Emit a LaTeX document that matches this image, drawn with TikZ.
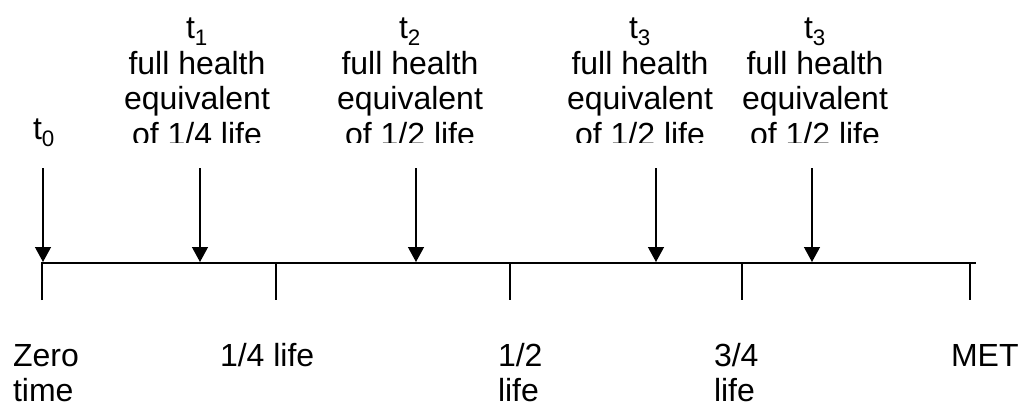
\documentclass[tikz,border=0pt]{standalone}
\usepackage{fontspec}
\setmainfont{Liberation Sans}
\usetikzlibrary{arrows.meta}
\begin{document}
\begin{tikzpicture}[x=1pt,y=-1pt,
  every node/.style={inner sep=0pt,outer sep=0pt,font=\fontsize{32}{35.5}\selectfont},
  toplabel/.style={align=center,anchor=base},
  botlabel/.style={align=left,anchor=base west,font=\fontsize{32}{34.5}\selectfont},
  axisline/.style={line width=1.3pt},
  evarrow/.style={line width=1.3pt,-{Triangle[width=16pt,length=15pt]}}]
\useasboundingbox (0,0) rectangle (1018,407);
% axis points
\coordinate (p0) at (42,263);
\coordinate (p1) at (276,263);
\coordinate (p2) at (510,263);
\coordinate (p3) at (742,263);
\coordinate (p4) at (970,263);
\coordinate (pend) at (976,263);
\coordinate (q0) at (42,300);
\coordinate (q1) at (276,300);
\coordinate (q2) at (510,300);
\coordinate (q3) at (742,300);
\coordinate (q4) at (970,300);
% arrow points
\coordinate (a0s) at (43,168);  \coordinate (a0e) at (43,262);
\coordinate (a1s) at (200,168); \coordinate (a1e) at (200,262);
\coordinate (a2s) at (416,168); \coordinate (a2e) at (416,262);
\coordinate (a3s) at (656,168); \coordinate (a3e) at (656,262);
\coordinate (a4s) at (812,168); \coordinate (a4e) at (812,262);
% top labels (clipped at bottom, as in the source)
\node[toplabel] (t0) at (44,139) {t\textsubscript{0}};
\begin{scope}
\clip (0,0) rectangle (1018,142);
\node[toplabel] (t1) at (197,145) {t\textsubscript{1}\\full health\\equivalent\\of 1/4 life};
\node[toplabel] (t2) at (410,145) {t\textsubscript{2}\\full health\\equivalent\\of 1/2 life};
\node[toplabel] (t3) at (640,145) {t\textsubscript{3}\\full health\\equivalent\\of 1/2 life};
\node[toplabel] (t4) at (815,145) {t\textsubscript{3}\\full health\\equivalent\\of 1/2 life};
\end{scope}
% axis
\draw[axisline] (q0) -- (p0) -- (pend);
\draw[axisline] (p1) -- (q1);
\draw[axisline] (p2) -- (q2);
\draw[axisline] (p3) -- (q3);
\draw[axisline] (p4) -- (q4);
% arrows
\draw[evarrow] (a0s) -- (a0e);
\draw[evarrow] (a1s) -- (a1e);
\draw[evarrow] (a2s) -- (a2e);
\draw[evarrow] (a3s) -- (a3e);
\draw[evarrow] (a4s) -- (a4e);
% bottom labels (base anchor is the last line)
\node[botlabel] (zero) at (13,401) {Zero\\time};
\node[botlabel] (quarter) at (220,366.5) {1/4 life};
\node[botlabel] (half) at (498,401) {1/2\\life};
\node[botlabel] (threeq) at (714,401) {3/4\\life};
\node[botlabel] (met) at (951,366.5) {MET};
\end{tikzpicture}
\end{document}
